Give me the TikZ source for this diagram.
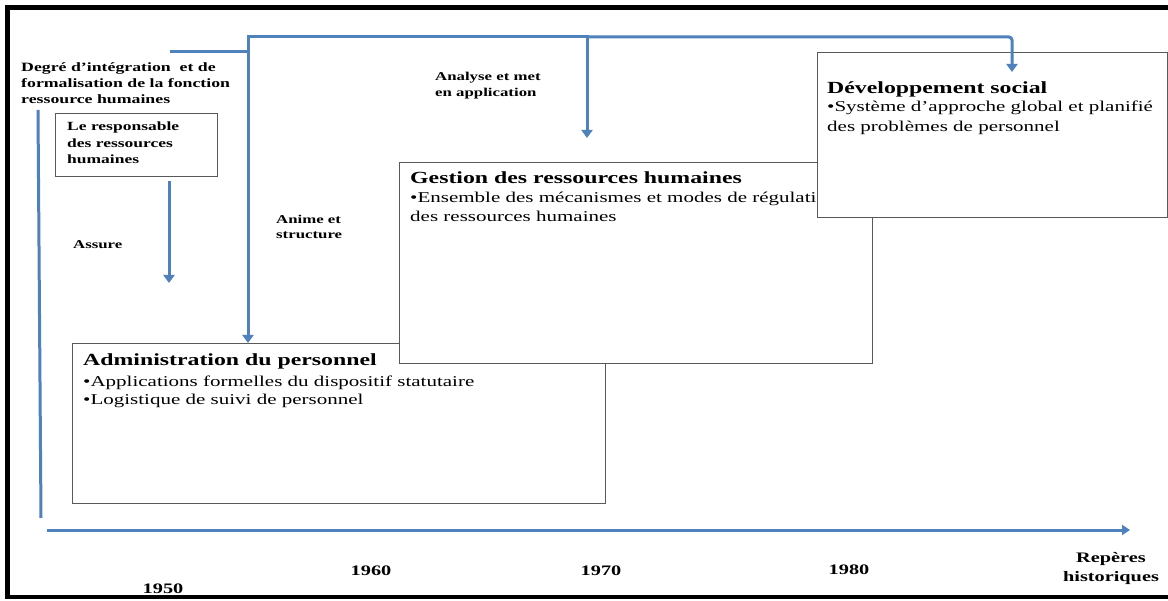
\documentclass[tikz,border=0pt]{standalone}
\usepackage{fontspec}
\setmainfont{Liberation Serif}[FakeStretch=1.4]
\usetikzlibrary{arrows.meta}
\definecolor{flowblue}{HTML}{4F81BD}
\definecolor{boxgray}{HTML}{595959}
\newcommand{\fsz}[2]{\fontsize{#1}{#2}\selectfont}
\begin{document}
\begin{tikzpicture}[x=1pt,y=-1pt,
  flow/.style={draw=flowblue,line width=3pt},
  flowarrow/.style={flow,-{Triangle[width=11pt,length=8pt]}},
  panel/.style={draw=boxgray,line width=1.2pt,fill=white,inner sep=0pt,anchor=north west},
  lbl/.style={inner sep=0pt,anchor=base west,align=left,font=\bfseries\fsz{12}{16}},
  ptitle/.style={inner sep=0pt,anchor=base west,font=\bfseries\fsz{17}{20}},
  pbody/.style={inner sep=0pt,anchor=base west,align=left,font=\fsz{15}{#1}},
  year/.style={inner sep=0pt,anchor=base,align=center,font=\bfseries\fsz{14.5}{19}}]
\useasboundingbox (0,0) rectangle (1168,601);
\fill[white] (0,0) rectangle (1168,601);
% outer frame
\draw[line width=4.5pt] (1168,7.5) -- (7.5,7.5) -- (7.5,597) -- (1168,597);

% axis labels (multi-line nodes sit on the baseline of their last line)
\node[lbl,font=\bfseries\fsz{12.7}{16}] (deg) at (21,104) {Degré d’intégration \ et de\\formalisation de la fonction\\ressource humaines};
\node[panel,minimum width=162pt,minimum height=63pt] (resp) at (55,113) {};
\node[lbl,font=\bfseries\fsz{12.5}{16.5}] (resptxt) at (67,164) {Le responsable\\des ressources\\humaines};
\node[lbl] (assure) at (73,249) {Assure};
\node[lbl,font=\bfseries\fsz{12}{15}] (anime) at (276,239) {Anime et\\structure};
\node[lbl] (analyse) at (435,97) {Analyse et met\\en application};

% stages
\node[panel,minimum width=533pt,minimum height=160pt] (admin) at (72,343) {};
\node[ptitle] (admint) at (83,366) {Administration du personnel};
\node[pbody=18] (adminb) at (83,405) {•Applications formelles du dispositif statutaire\\•Logistique de suivi de personnel};

\node[panel,minimum width=473pt,minimum height=201pt] (grh) at (399,162) {};
\node[ptitle] (grht) at (410,184) {Gestion des ressources humaines};
\node[pbody=19] (grhb) at (410,222) {•Ensemble des mécanismes et modes de régulation\\des ressources humaines};

\node[panel,minimum width=350pt,minimum height=165pt] (ds) at (817,52) {};
\node[ptitle] (dst) at (827,94) {Développement social};
\node[pbody=20] (dsb) at (827,132) {•Système d’approche global et planifié\\des problèmes de personnel};

% time axis labels
\node[year] (y50) at (163,593) {1950};
\node[year] (y60) at (371,575) {1960};
\node[year] (y70) at (601,575) {1970};
\node[year] (y80) at (849,574) {1980};
\node[year] (rep) at (1111,581) {Repères\\historiques};

% axes
\coordinate (yTop) at (38,110);
\coordinate (yBot) at (41,518);
\coordinate (xL) at (47,530);
\coordinate (xR) at (1130,530);
\draw[flow] (yTop) -- (yBot);
\draw[flow,-{Triangle[width=10pt,length=8pt]}] (xL) -- (xR);

% connectors
\coordinate (stub) at (170,52);
\coordinate (hubL) at (248,37);
\coordinate (hubM) at (587,37);
\coordinate (hubR) at (1012,37);
\coordinate (grhTip) at (587,138);
\coordinate (dsTip) at (1012,72);
\coordinate (assA) at (169,181);
\coordinate (assB) at (169,283);
\draw[flow] (stub) -- (stub -| hubL);
\draw[flowarrow] (hubL) -- (admin.north -| hubL);
\draw[flow,line cap=rect] (hubL) -- (hubM);
\draw[flowarrow,rounded corners=3pt] (hubM) -- (hubR) -- (dsTip);
\draw[flowarrow] (hubM) -- (grhTip);
\draw[flowarrow] (assA) -- (assB);
\end{tikzpicture}
\end{document}
